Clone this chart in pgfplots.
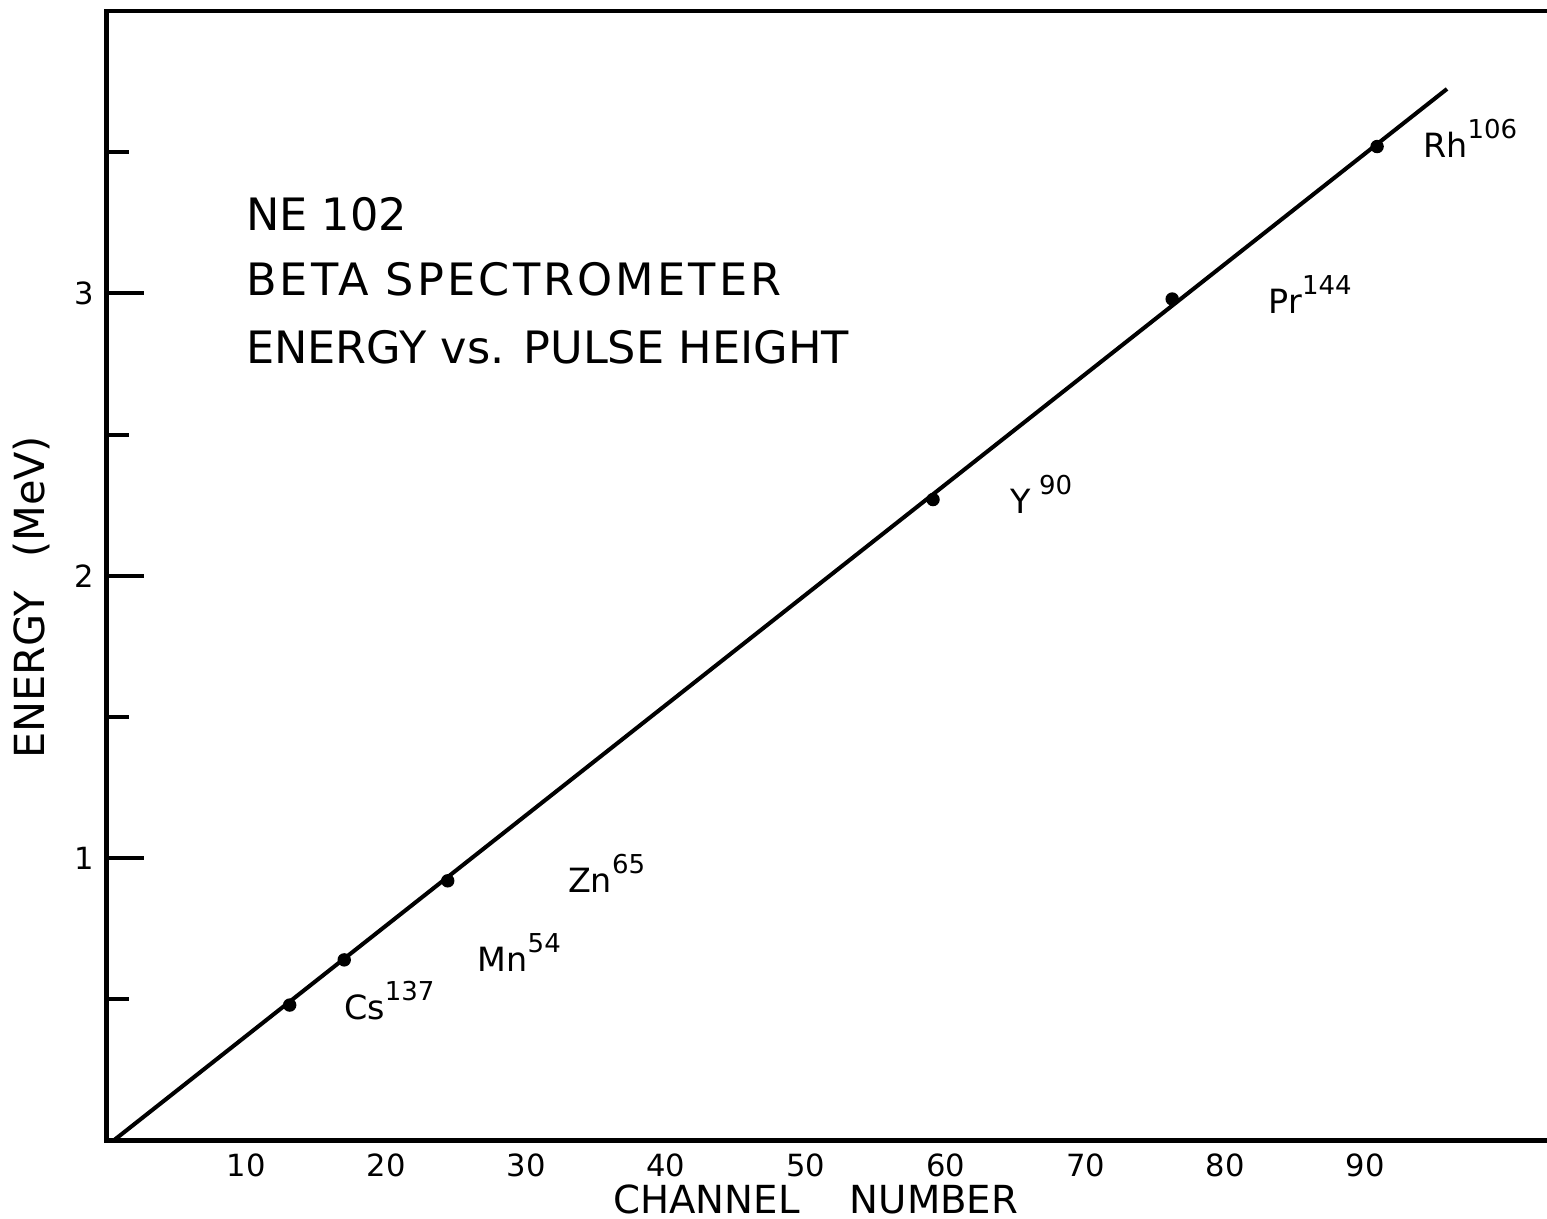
\documentclass[border=0pt]{standalone}
\usepackage{fontspec}
\setmainfont{DejaVu Sans}
\usepackage{pgfplots}
\pgfplotsset{compat=1.18}

% lettering sizes
\newcommand\titlefont{\fontsize{12.7pt}{15pt}\selectfont}
\newcommand\xlabelfont{\fontsize{11pt}{13pt}\selectfont}
\newcommand\ylabelfont{\fontsize{11.8pt}{14pt}\selectfont}
\newcommand\tickfont{\fontsize{8.7pt}{10pt}\selectfont}
\newcommand\isofont{\fontsize{9.5pt}{11pt}\selectfont}
\newcommand\supfont{\fontsize{7.4pt}{8pt}\selectfont}
% isotope symbol with its mass number
\newcommand\iso[2]{{\isofont #1\raisebox{1.9mm}{\supfont #2}}}

\begin{document}
\begin{tikzpicture}
\begin{axis}[
  scale only axis,
  width=144.1mm, height=113.0mm,
  xmin=0, xmax=103, ymin=0, ymax=4,
  clip=false,
  axis line style={draw=none},
  xtick={10,20,...,90},
  ytick={1,2,3},
  minor ytick={0.5,1.5,2.5,3.5},
  major x tick style={draw=none},
  minor x tick style={draw=none},
  every y tick/.style={line width=1.1pt, black},
  every minor y tick/.style={line width=1.1pt, black},
  xtick pos=bottom, ytick pos=left,
  tick align=inside,
  major tick length=3.8mm, minor tick length=2.3mm,
  /pgf/number format/assume math mode=true,
  ticklabel style={font=\tickfont},
  xticklabel style={anchor=center, yshift=-2.5mm},
  yticklabel style={anchor=center, xshift=-2.25mm},
  xlabel={CHANNEL\hspace{1.3em}NUMBER},
  ylabel={ENERGY\hspace{0.8em}(MeV)},
  every axis x label/.style={at={(rel axis cs:0.4924,0)}, anchor=center, yshift=-5.9mm, font=\xlabelfont},
  every axis y label/.style={at={(rel axis cs:0,0.481)}, xshift=-7.45mm, rotate=90, anchor=center, font=\ylabelfont},
]
% frame: left, bottom and top edges, open on the right
\draw[line width=1.4pt, line cap=rect]
  (rel axis cs:1,1) -- (rel axis cs:0,1) -- (rel axis cs:0,0) -- (rel axis cs:1,0);
\coordinate (sw) at (rel axis cs:0,0);
\coordinate (ne) at (rel axis cs:1,1);

% calibration line
\addplot[black, line width=1.15pt] coordinates {(0.5,0) (95.85,3.724)};
% measured end-point energies
\addplot[only marks, mark=*, mark size=0.6mm, black] coordinates {
  (13.1,0.48) (17.0,0.64) (24.4,0.92) (59.1,2.27) (76.2,2.98) (90.85,3.52)};

% sources
\node[anchor=base west, inner sep=0] at (axis cs:16.94,0.428) {\iso{Cs}{137}};
\node[anchor=base west, inner sep=0] at (axis cs:26.5,0.598) {\iso{Mn}{54}};
\node[anchor=base west, inner sep=0] at (axis cs:32.95,0.878) {\iso{Zn}{65}};
\node[anchor=base west, inner sep=0] at (axis cs:64.6,2.22) {\iso{Y\hspace{0.8mm}}{90}};
\node[anchor=base west, inner sep=0] at (axis cs:83.06,2.93) {\iso{Pr}{144}};
\node[anchor=base west, inner sep=0] at (axis cs:94.1,3.48) {\iso{Rh}{106}};

% heading
\node[anchor=base west, inner sep=0, font=\titlefont] at (axis cs:9.94,3.221) {NE 102};
\node[anchor=base west, inner sep=0, font=\titlefont] at (axis cs:9.94,2.991) {\addfontfeature{LetterSpace=7}BETA SPECTROMETER};
\node[anchor=base west, inner sep=0, font=\titlefont] at (axis cs:9.94,2.750) {ENERGY vs. PULSE HEIGHT};
\end{axis}
\pgfresetboundingbox
\path ([xshift=-10.65mm,yshift=-7.8mm]sw) rectangle ([yshift=1.1mm]ne);
\end{tikzpicture}
\end{document}
